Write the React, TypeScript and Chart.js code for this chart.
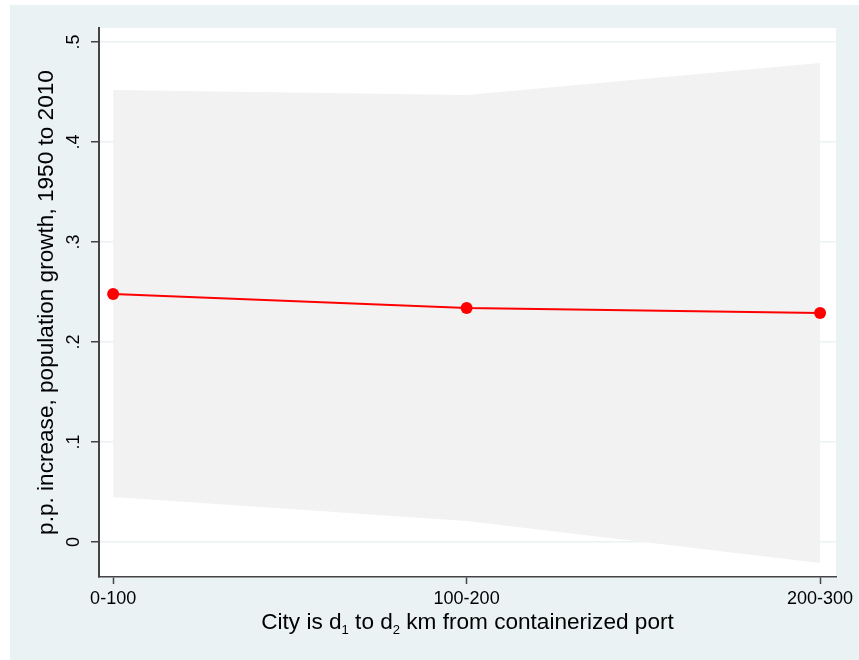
import React, { useEffect, useRef } from "react";
import { Chart, registerables } from "chart.js";

Chart.register(...registerables);

const categories = ["0-100", "100-200", "200-300"];
const estimate = [0.248, 0.234, 0.229];
const ciUpper = [0.452, 0.447, 0.479];
const ciLower = [0.045, 0.021, -0.021];
const yTickValues = [0, 0.1, 0.2, 0.3, 0.4, 0.5];
const yTickLabels = ["0", ".1", ".2", ".3", ".4", ".5"];
const yTitle = "p.p. increase, population growth, 1950 to 2010";
const xTitleParts: [string, boolean][] = [
  ["City is d", false],
  ["1", true],
  [" to d", false],
  ["2", true],
  [" km from containerized port", false],
];

const FONT = '"Liberation Sans", Arial, Helvetica, sans-serif';
const OUTER_BG = "#EAF2F3";
const AXIS = "#444444";

const backgroundPlugin = {
  id: "stataBg",
  beforeDraw(chart: any) {
    const { ctx, chartArea } = chart;
    ctx.save();
    ctx.fillStyle = "#FFFFFF";
    ctx.fillRect(0, 0, chart.width, chart.height);
    ctx.fillStyle = OUTER_BG;
    ctx.fillRect(10, 5, chart.width - 10, chart.height - 5);
    ctx.fillStyle = "#FFFFFF";
    ctx.fillRect(chartArea.left, chartArea.top, chartArea.right - chartArea.left, chartArea.bottom - chartArea.top);
    ctx.restore();
  },
};

const textPlugin = {
  id: "stataText",
  afterDraw(chart: any) {
    const { ctx, chartArea } = chart;
    const yScale = chart.scales.y;
    ctx.save();
    ctx.fillStyle = "#000000";
    ctx.font = `18px ${FONT}`;
    ctx.textAlign = "center";
    ctx.textBaseline = "middle";
    yTickValues.forEach((v, i) => {
      const py = yScale.getPixelForValue(v);
      ctx.save();
      ctx.translate(74, py);
      ctx.rotate(-Math.PI / 2);
      ctx.fillText(yTickLabels[i], 0, 0);
      ctx.restore();
    });
    ctx.font = `22.6px ${FONT}`;
    ctx.save();
    ctx.translate(47, (chartArea.top + chartArea.bottom) / 2);
    ctx.rotate(-Math.PI / 2);
    ctx.fillText(yTitle, 0, 0);
    ctx.restore();
    const mainFont = `22.6px ${FONT}`;
    const subFont = `13px ${FONT}`;
    let total = 0;
    const widths = xTitleParts.map(([t, sub]) => {
      ctx.font = sub ? subFont : mainFont;
      const w = ctx.measureText(t).width;
      total += w;
      return w;
    });
    let x = (chartArea.left + chartArea.right) / 2 - total / 2;
    const baseY = 629;
    ctx.textAlign = "left";
    ctx.textBaseline = "alphabetic";
    xTitleParts.forEach(([t, sub], i) => {
      ctx.font = sub ? subFont : mainFont;
      ctx.fillText(t, x, sub ? baseY + 5 : baseY);
      x += widths[i];
    });
    ctx.restore();
  },
};

export default function App() {
  const ref = useRef<HTMLCanvasElement | null>(null);
  useEffect(() => {
    document.body.style.margin = "0";
    if (!ref.current) return;
    const toPts = (arr: number[]) => arr.map((y, i) => ({ x: i, y }));
    const chart = new Chart(ref.current, {
      type: "line",
      data: {
        datasets: [
          {
            label: "upper",
            data: toPts(ciUpper),
            borderWidth: 0,
            borderColor: "rgba(0,0,0,0)",
            pointRadius: 0,
            fill: "+1",
            backgroundColor: "#F2F2F2",
            order: 2,
          },
          {
            label: "lower",
            data: toPts(ciLower),
            borderWidth: 0,
            borderColor: "rgba(0,0,0,0)",
            pointRadius: 0,
            fill: false,
            order: 1,
          },
          {
            label: "estimate",
            data: toPts(estimate),
            borderColor: "#FF0000",
            borderWidth: 2,
            pointRadius: 6,
            pointBackgroundColor: "#FF0000",
            pointBorderColor: "#FF0000",
            pointBorderWidth: 0,
            fill: false,
            clip: false,
            order: 0,
          },
        ],
      },
      options: {
        animation: false,
        responsive: false,
        devicePixelRatio: 1,
        layout: { padding: { top: 28, right: 23, left: 0, bottom: 0 } },
        plugins: {
          legend: { display: false },
          tooltip: { enabled: false },
        },
        scales: {
          x: {
            type: "linear",
            min: -0.04,
            max: 2.045,
            afterBuildTicks: (scale: any) => {
              scale.ticks = categories.map((_, i) => ({ value: i }));
            },
            afterFit: (scale: any) => {
              scale.height = 83;
            },
            ticks: {
              callback: (v: any) => categories[Math.round(Number(v))] ?? "",
              font: { family: FONT, size: 18 },
              color: "#000000",
              padding: 4,
              maxRotation: 0,
              minRotation: 0,
              autoSkip: false,
            },
            grid: {
              display: true,
              drawOnChartArea: false,
              drawTicks: true,
              tickLength: 7,
              tickColor: AXIS,
              tickWidth: 1.5,
            },
            border: { display: true, color: AXIS, width: 1.5 },
          },
          y: {
            type: "linear",
            min: -0.035,
            max: 0.514,
            afterBuildTicks: (scale: any) => {
              scale.ticks = yTickValues.map((v) => ({ value: v }));
            },
            afterFit: (scale: any) => {
              scale.width = 99;
            },
            ticks: { display: false },
            grid: {
              display: true,
              color: OUTER_BG,
              lineWidth: 1.5,
              drawTicks: true,
              tickLength: 8,
              tickColor: AXIS,
              tickWidth: 1.5,
            },
            border: { display: true, color: AXIS, width: 2 },
          },
        },
      },
      plugins: [backgroundPlugin, textPlugin],
    } as any);
    return () => chart.destroy();
  }, []);
  return <canvas ref={ref} width={859} height={660} style={{ display: "block", width: 859, height: 660 }} />;
}
